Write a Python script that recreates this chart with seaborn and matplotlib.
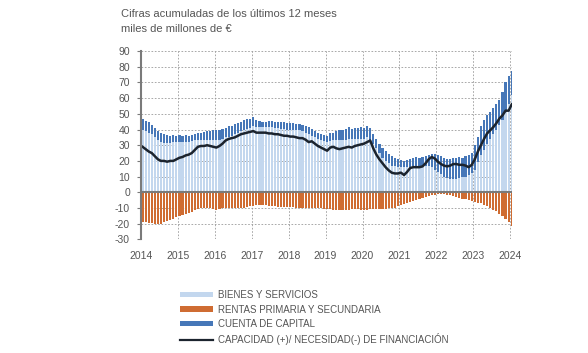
import numpy as np
import pandas as pd
import matplotlib.pyplot as plt
from matplotlib.patches import Patch
from matplotlib.lines import Line2D
import seaborn as sns

# monthly data, Jan 2014 - Jan 2024 (12-month cumulative, bn EUR)
bienes = [40, 39, 38, 37, 35, 33.5, 32, 31.5, 31.5, 31.5, 32, 32,
          32, 32, 32, 32, 32.5, 33, 33, 33, 33.5, 33.5, 33.5, 33,
          33, 33.5, 34, 35, 35.5, 36, 37, 38, 39, 40, 40.5, 41,
          42, 41.5, 41.5, 41.5, 41.5, 41.5, 41.5, 41, 41, 40.5, 40.5, 40,
          40, 40, 39.5, 39.5, 39, 38, 37, 36, 35, 34, 33, 32.5,
          32, 32.5, 33, 33, 33, 33.5, 33.5, 34, 34, 34, 34, 34,
          34, 35, 33.5, 31, 28, 25, 22, 20, 18.5, 17, 16.5, 16,
          16, 16, 16, 16, 16.5, 16.5, 16.5, 16.5, 17, 17, 16, 14.5,
          13, 11.5, 10, 9, 8.5, 8.5, 8.5, 9, 9.5, 10, 11, 12.5,
          14, 19, 24, 27, 31, 34, 37, 40, 43, 46, 51, 56,
          62]
capital = [7, 6.5, 6.5, 6, 6, 5.5, 5.5, 5.5, 5, 4.5, 4.5, 4,
           4.5, 4, 4.5, 4, 4, 4, 4.5, 5, 5, 5.5, 5.5, 6.5,
           6.5, 6.5, 6.5, 6, 6.5, 6.5, 6.5, 6, 6, 6, 6, 6,
           6, 4.5, 4, 3.5, 3.5, 4, 4, 4, 4, 4, 4, 4,
           4, 4, 4, 4, 4, 4, 4.5, 4.5, 4, 4, 4, 4,
           4, 5, 5, 6, 6.5, 6.5, 7, 7.5, 6.5, 7, 7, 7.5,
           7, 7.5, 7.5, 6, 6, 6, 6, 6, 6, 6, 5.5, 5,
           4.5, 4, 4.5, 5, 5.5, 6, 5.5, 6, 6, 7, 8.5, 10,
           11, 11.5, 12, 12, 12.5, 13.5, 13.5, 13.5, 12.5, 13, 12.5, 12.5,
           16, 16, 18, 19, 18, 17, 17, 16, 16, 18, 19, 18,
           15]
rentas = [-19, -19, -19.5, -19.5, -20, -20, -20, -19, -18, -17.5, -17, -16,
          -15, -14.5, -14, -13, -12.5, -11.5, -10.5, -10, -10, -10, -10, -10.5,
          -11, -10.5, -10, -10, -10, -10, -10, -10, -10, -10, -9.5, -9,
          -8.5, -8, -8, -8, -8, -8.5, -9, -9, -9.5, -9.5, -9.5, -9.5,
          -9.5, -9.5, -10, -10, -10, -10, -10, -10, -10, -10, -10, -10.5,
          -10.5, -10.5, -11, -11, -11, -11, -11, -11, -10.5, -10.5, -10.5, -11,
          -11, -11, -10.5, -10.5, -10.5, -10.5, -10.5, -10.5, -10, -10, -10, -9,
          -8, -7.5, -7, -6, -5.5, -5, -4, -3.5, -3, -2.5, -2, -1.5,
          -1, -1, -1, -1.5, -2, -2.5, -3, -3.5, -4, -4.5, -5, -5.5,
          -6, -6.5, -7, -8, -9, -10, -11, -12, -13.5, -15, -17, -19,
          -21.5]
capacidad = [29, 27.5, 26, 25, 23, 21, 20, 20, 19.5, 20, 20, 21,
             22, 22.5, 23.5, 24, 25, 27, 29, 29.5, 29.5, 30, 29.5, 29,
             28.5, 29.5, 31, 33, 34, 34.5, 35, 36, 37, 37.5, 38, 38.5,
             39, 38, 38, 38, 38, 37.5, 37.5, 37, 37, 36.5, 36, 36,
             35.5, 35.5, 35, 34.5, 34.5, 33.5, 32, 32.5, 31, 29.5, 28.5, 27.5,
             26.5, 28.5, 29, 28, 27.5, 28, 28.5, 29, 28.5, 29.5, 30, 30.5,
             31, 32, 33, 28, 24, 21, 18.5, 16, 14, 12.5, 12, 12,
             12.5, 11, 13, 15.5, 16, 16, 16, 16.5, 18.5, 21, 22.5, 21.5,
             19.5, 18, 17, 16.5, 17, 18, 18, 17.5, 17.5, 17, 16, 17.5,
             21, 26, 30, 34, 37.5, 39.5, 41.5, 44, 47, 49, 52, 52,
             56]
years = list(range(2014, 2025))

C_BIENES = "#c3d7ee"
C_RENTAS = "#cf6c32"
C_CAPITAL = "#4677b8"
C_LINE = "#1c242e"
GREY = "#555555"

meses = pd.date_range("2014-01-01", periods=len(bienes), freq="MS")
df = pd.DataFrame({
    "pos": meses.year + (meses.month - 0.5) / 12,
    "bienes": bienes,
    "capital": capital,
    "rentas": rentas,
    "capacidad": capacidad,
})
df["tope"] = df["bienes"] + df["capital"]

plt.rcParams["font.family"] = ["Liberation Sans", "DejaVu Sans"]
plt.rcParams["axes.unicode_minus"] = False

fig = plt.figure(figsize=(5.88, 3.53), dpi=100)
ax = fig.add_axes([0.2398, 0.3218, 0.631, 0.5337])

# stacked look: capital drawn full height, bienes painted over it
sns.barplot(data=df, x="pos", y="tope", native_scale=True, color=C_CAPITAL,
            saturation=1, width=0.7, errorbar=None, edgecolor="none", ax=ax)
sns.barplot(data=df, x="pos", y="bienes", native_scale=True, color=C_BIENES,
            saturation=1, width=0.7, errorbar=None, edgecolor="none", ax=ax)
sns.barplot(data=df, x="pos", y="rentas", native_scale=True, color=C_RENTAS,
            saturation=1, width=0.7, errorbar=None, edgecolor="none", ax=ax)
sns.lineplot(data=df, x="pos", y="capacidad", color=C_LINE, lw=1.8, ax=ax)

ax.axhline(0, color="#7a7a7a", lw=1.5, zorder=3)

ax.set_xlim(2014, 2024.05)
ax.set_ylim(-30, 90)
ax.set_xticks(years)
ax.set_xticklabels([str(y) for y in years])
ax.set_yticks(range(-30, 91, 10))
ax.grid(True, color="#9a9a9a", lw=0.6, linestyle=(0, (2, 2)))
ax.set_axisbelow(True)
for s in ["top", "right", "bottom"]:
    ax.spines[s].set_visible(False)
ax.spines["left"].set_color("#7a7a7a")
ax.spines["left"].set_linewidth(1.5)
ax.tick_params(axis="y", labelsize=7.5, colors=GREY, length=3, color="#7a7a7a", pad=5)
ax.tick_params(axis="x", labelsize=7.5, colors=GREY, length=0, pad=8)
ax.set_xlabel("")
ax.set_ylabel("")

fig.text(0.205, 1 - 14 / 353, "Cifras acumuladas de los últimos 12 meses",
         fontsize=8, color=GREY, va="center")
fig.text(0.205, 1 - 29.5 / 353, "miles de millones de €",
         fontsize=8, color=GREY, va="center")

handles = [
    Patch(facecolor=C_BIENES, edgecolor="none"),
    Patch(facecolor=C_RENTAS, edgecolor="none"),
    Patch(facecolor=C_CAPITAL, edgecolor="none"),
    Line2D([], [], color=C_LINE, lw=1.6),
]
labels = ["BIENES Y SERVICIOS", "RENTAS PRIMARIA Y SECUNDARIA",
          "CUENTA DE CAPITAL", "CAPACIDAD (+)/ NECESIDAD(-) DE FINANCIACIÓN"]
fig.legend(handles, labels, loc="upper left", bbox_to_anchor=(0.306, 0.178),
           frameon=False, fontsize=7, labelcolor=GREY, handlelength=3.4,
           handleheight=0.5, handletextpad=0.5, labelspacing=0.45,
           borderpad=0, borderaxespad=0)

fig.savefig("out.png", dpi=100)
